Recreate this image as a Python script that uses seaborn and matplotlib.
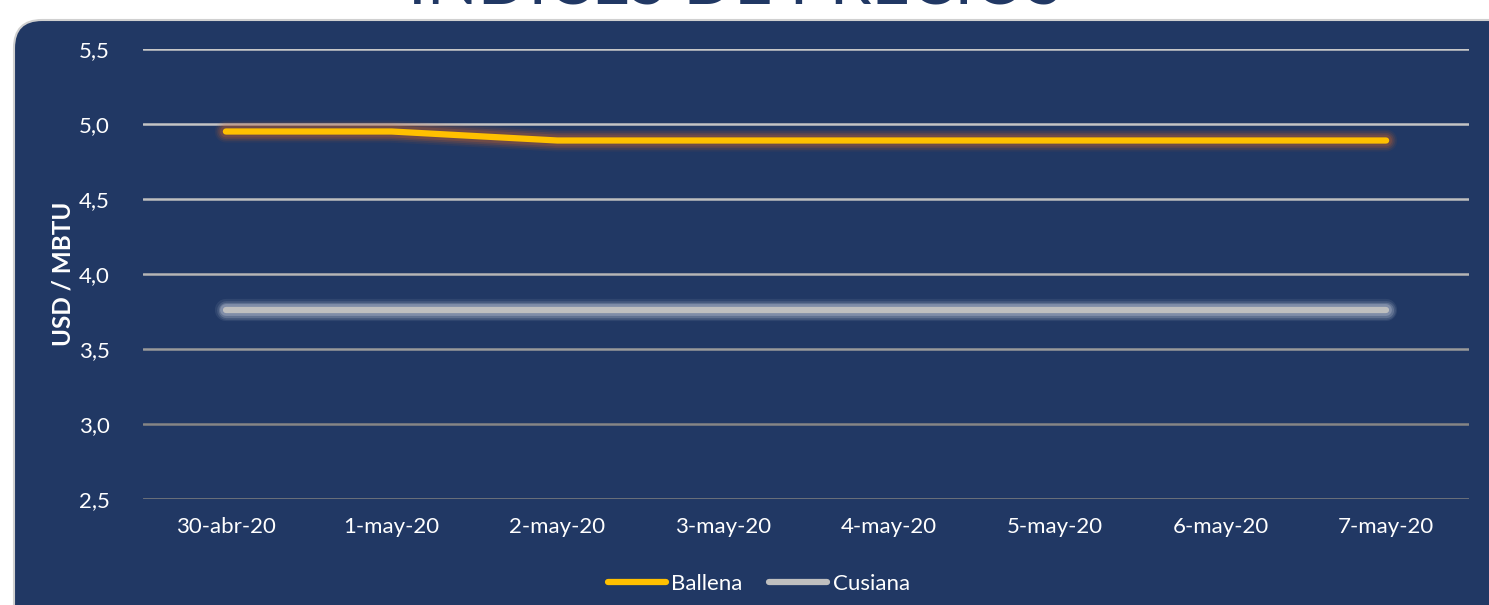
import matplotlib
matplotlib.use("Agg")
import matplotlib.pyplot as plt
import matplotlib.patheffects as pe
from matplotlib.patches import FancyBboxPatch
from matplotlib.transforms import IdentityTransform
from matplotlib.lines import Line2D
import seaborn as sns
import pandas as pd

dates = ["30-abr-20", "1-may-20", "2-may-20", "3-may-20", "4-may-20", "5-may-20", "6-may-20", "7-may-20"]
ballena = [4.95, 4.95, 4.89, 4.89, 4.89, 4.89, 4.89, 4.89]
cusiana = [3.76, 3.76, 3.76, 3.76, 3.76, 3.76, 3.76, 3.76]
yticks = [2.5, 3.0, 3.5, 4.0, 4.5, 5.0, 5.5]
title = "ÍNDICES DE PRECIOS"

sns.set_theme(style="white")
plt.rcParams["font.family"] = ["Lato", "DejaVu Sans"]

W, H = 1489, 605
fig = plt.figure(figsize=(W / 100, H / 100), dpi=100)
fig.patch.set_facecolor("white")

navy = "#213864"
panel = FancyBboxPatch((14, -60), 1600, (H - 20) + 60,
                       boxstyle="round,pad=0,rounding_size=28",
                       transform=IdentityTransform(), facecolor=navy,
                       edgecolor="#D0D0D0", linewidth=1.5, zorder=-5)
fig.patches.append(panel)

fig.text(735 / W, 1 - 3 / H, title, ha="center", va="baseline",
         fontsize=48, color=navy, fontweight="normal", zorder=-4)

ax = fig.add_axes([143 / W, 1 - 499 / H, (1469 - 143) / W, (499 - 49) / H])
ax.set_facecolor("none")
ax.set_zorder(2)

df = pd.DataFrame({"Fecha": dates * 2,
                   "Valor": ballena + cusiana,
                   "Serie": ["Ballena"] * len(dates) + ["Cusiana"] * len(dates)})
df["x"] = list(range(len(dates))) * 2

palette = {"Ballena": "#FFC000", "Cusiana": "#BFBFBF"}
sns.lineplot(data=df, x="x", y="Valor", hue="Serie", palette=palette,
             linewidth=4.5, ax=ax, legend=False, zorder=3)

glows = {"Ballena": "#C0602E", "Cusiana": "#E0E4F0"}
for line, name in zip(ax.lines, ["Ballena", "Cusiana"]):
    line.set_solid_capstyle("round")
    g = glows[name]
    line.set_path_effects([
        pe.Stroke(linewidth=16, foreground=g, alpha=0.08),
        pe.Stroke(linewidth=13.5, foreground=g, alpha=0.12),
        pe.Stroke(linewidth=11, foreground=g, alpha=0.18),
        pe.Stroke(linewidth=8.5, foreground=g, alpha=0.25),
        pe.Normal(),
    ])

ax.set_xlim(-0.5, len(dates) - 0.5)
ax.set_ylim(2.5, 5.5)
ax.set_yticks(yticks)
ax.set_yticklabels([f"{v:.1f}".replace(".", ",") for v in yticks])
ax.set_xticks(range(len(dates)))
ax.set_xticklabels(dates)
ax.tick_params(axis="both", colors="white", labelsize=16, length=0)
ax.tick_params(axis="y", pad=24)
ax.tick_params(axis="x", pad=13)
ax.grid(False)
grid_colors = {2.5: "#808080", 3.0: "#858585", 3.5: "#9A9A9A", 4.0: "#B5B5B5",
               4.5: "#BFBFBF", 5.0: "#C4C4C4", 5.5: "#C8C8C8"}
for v in yticks:
    ax.axhline(v, color=grid_colors[v], linewidth=1.8, zorder=1)
for s in ax.spines.values():
    s.set_visible(False)
ax.set_xlabel("")
ax.set_ylabel("USD / MBTU", color="white", fontsize=17.5, fontweight="bold")
ax.yaxis.set_label_coords(-0.0513, 0.5)

handles = [Line2D([0], [0], color=palette[n], linewidth=4.5, solid_capstyle="round") for n in ["Ballena", "Cusiana"]]
leg = fig.legend(handles, ["Ballena", "Cusiana"], loc="center", bbox_to_anchor=(759 / W, 1 - 584 / H),
                 ncol=2, frameon=False, fontsize=16, handlelength=2.6, handletextpad=0.25,
                 columnspacing=1.2)
for t in leg.get_texts():
    t.set_color("white")

fig.savefig("out.png", dpi=100, facecolor="white")
